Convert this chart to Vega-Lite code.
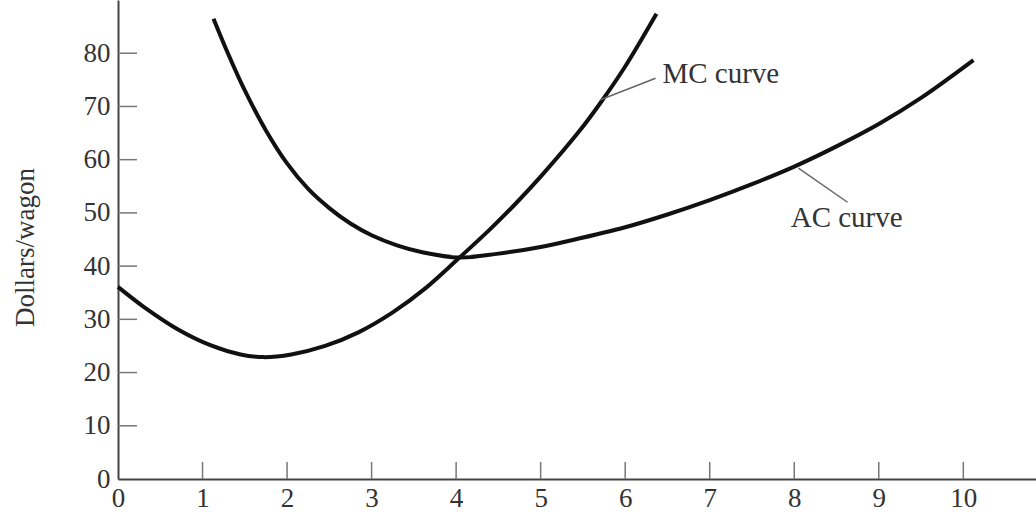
{
  "$schema": "https://vega.github.io/schema/vega-lite/v6.json",
  "width": 918,
  "height": 479,
  "autosize": {"type": "none"},
  "padding": {"left": 118, "top": 0, "right": 0, "bottom": 40},
  "background": "white",
  "config": {
    "view": {"stroke": null},
    "font": "Liberation Serif",
    "axis": {
      "labelFont": "Liberation Serif",
      "titleFont": "Liberation Serif",
      "labelFontSize": 27,
      "titleFontSize": 27,
      "labelColor": "#333",
      "titleColor": "#333",
      "titleFontWeight": "normal",
      "domainColor": "#444",
      "domainWidth": 2,
      "ticks": false,
      "grid": false
    }
  },
  "datasets": {
    "curves": [
      {"curve": "AC", "q": 1.13, "cost": 86.5},
      {"curve": "AC", "q": 1.3, "cost": 80.0},
      {"curve": "AC", "q": 1.5, "cost": 73.0},
      {"curve": "AC", "q": 1.75, "cost": 65.5},
      {"curve": "AC", "q": 2.0, "cost": 59.3},
      {"curve": "AC", "q": 2.25, "cost": 54.5},
      {"curve": "AC", "q": 2.5, "cost": 50.9},
      {"curve": "AC", "q": 2.75, "cost": 48.0},
      {"curve": "AC", "q": 3.0, "cost": 45.8},
      {"curve": "AC", "q": 3.3, "cost": 43.9},
      {"curve": "AC", "q": 3.6, "cost": 42.6},
      {"curve": "AC", "q": 4.04, "cost": 41.6},
      {"curve": "AC", "q": 4.48, "cost": 42.3},
      {"curve": "AC", "q": 5.0, "cost": 43.6},
      {"curve": "AC", "q": 5.35, "cost": 44.8},
      {"curve": "AC", "q": 6.0, "cost": 47.3},
      {"curve": "AC", "q": 6.5, "cost": 49.7},
      {"curve": "AC", "q": 7.0, "cost": 52.4},
      {"curve": "AC", "q": 7.5, "cost": 55.4},
      {"curve": "AC", "q": 8.0, "cost": 58.7},
      {"curve": "AC", "q": 8.5, "cost": 62.5},
      {"curve": "AC", "q": 9.0, "cost": 66.7},
      {"curve": "AC", "q": 9.5, "cost": 71.6},
      {"curve": "AC", "q": 10.12, "cost": 78.7},
      {"curve": "MC", "q": 0.0, "cost": 36.1},
      {"curve": "MC", "q": 0.3, "cost": 32.4},
      {"curve": "MC", "q": 0.7, "cost": 28.2},
      {"curve": "MC", "q": 1.1, "cost": 25.1},
      {"curve": "MC", "q": 1.45, "cost": 23.4},
      {"curve": "MC", "q": 1.72, "cost": 22.9},
      {"curve": "MC", "q": 2.05, "cost": 23.4},
      {"curve": "MC", "q": 2.45, "cost": 25.0},
      {"curve": "MC", "q": 2.85, "cost": 27.6},
      {"curve": "MC", "q": 3.25, "cost": 31.3},
      {"curve": "MC", "q": 3.65, "cost": 36.0},
      {"curve": "MC", "q": 4.04, "cost": 41.6},
      {"curve": "MC", "q": 4.4, "cost": 46.9},
      {"curve": "MC", "q": 4.72, "cost": 52.0},
      {"curve": "MC", "q": 5.0, "cost": 56.8},
      {"curve": "MC", "q": 5.47, "cost": 65.6},
      {"curve": "MC", "q": 5.7, "cost": 70.5},
      {"curve": "MC", "q": 6.0, "cost": 77.5},
      {"curve": "MC", "q": 6.37, "cost": 87.4}
    ],
    "xticks": [
      {"v": 1}, {"v": 2}, {"v": 3}, {"v": 4}, {"v": 5},
      {"v": 6}, {"v": 7}, {"v": 8}, {"v": 9}, {"v": 10}
    ],
    "yticks": [
      {"v": 10}, {"v": 20}, {"v": 30}, {"v": 40},
      {"v": 50}, {"v": 60}, {"v": 70}, {"v": 80}
    ],
    "leaders": [
      {"name": "MC curve", "q": 5.7, "cost": 71.2, "q2": 6.36, "cost2": 75.3},
      {"name": "AC curve", "q": 8.05, "cost": 58.4, "q2": 8.63, "cost2": 52.0}
    ],
    "labels": [
      {"name": "MC curve", "q": 6.44, "cost": 74.4, "align": "left"},
      {"name": "AC curve", "q": 8.62, "cost": 47.3, "align": "center"}
    ]
  },
  "layer": [
    {
      "mark": {"type": "rule", "color": "#333", "strokeWidth": 1.6, "strokeDash": [12, 6]},
      "encoding": {
        "x": {"datum": 4, "type": "quantitative", "scale": {"domain": [0, 10.86], "nice": false}},
        "y": {"datum": 0, "type": "quantitative"},
        "y2": {"datum": 90}
      }
    },
    {
      "mark": {"type": "rule", "color": "#888", "strokeWidth": 2},
      "encoding": {
        "y": {"datum": 90, "type": "quantitative"},
        "x": {"datum": 0, "type": "quantitative"},
        "x2": {"datum": 10.86}
      }
    },
    {
      "data": {"name": "xticks"},
      "mark": {"type": "rule", "color": "#777", "strokeWidth": 1.5},
      "encoding": {
        "x": {"field": "v", "type": "quantitative"},
        "y": {"datum": 0, "type": "quantitative"},
        "y2": {"datum": 3.2}
      }
    },
    {
      "data": {"name": "yticks"},
      "mark": {"type": "rule", "color": "#777", "strokeWidth": 1.5},
      "encoding": {
        "y": {"field": "v", "type": "quantitative"},
        "x": {"datum": 0, "type": "quantitative"},
        "x2": {"datum": 0.225}
      }
    },
    {
      "data": {"name": "curves"},
      "mark": {"type": "line", "color": "#111", "strokeWidth": 4, "interpolate": "catmull-rom", "strokeCap": "butt"},
      "encoding": {
        "detail": {"field": "curve"},
        "x": {
          "field": "q", "type": "quantitative",
          "scale": {"domain": [0, 10.86], "nice": false, "zero": false},
          "axis": {"values": [0,1,2,3,4,5,6,7,8,9,10], "format": "d", "title": null, "labelPadding": 6, "labelFlush": false}
        },
        "y": {
          "field": "cost", "type": "quantitative",
          "scale": {"domain": [0, 90], "nice": false},
          "axis": {"values": [0,10,20,30,40,50,60,70,80], "format": "d", "title": "Dollars/wagon", "labelPadding": 8,
                   "titleAngle": -90, "titleX": -93, "titleY": 247, "titleAlign": "center", "titleBaseline": "middle"}
        }
      }
    },
    {
      "data": {"name": "leaders"},
      "mark": {"type": "rule", "color": "#666", "strokeWidth": 1.5},
      "encoding": {
        "x": {"field": "q", "type": "quantitative"},
        "y": {"field": "cost", "type": "quantitative"},
        "x2": {"field": "q2"},
        "y2": {"field": "cost2"}
      }
    },
    {
      "data": {"name": "labels"},
      "transform": [{"filter": "datum.align == 'left'"}],
      "mark": {"type": "text", "font": "Liberation Serif", "fontSize": 29, "color": "#333", "align": "left", "baseline": "alphabetic"},
      "encoding": {
        "x": {"field": "q", "type": "quantitative"},
        "y": {"field": "cost", "type": "quantitative"},
        "text": {"field": "name"}
      }
    },
    {
      "data": {"name": "labels"},
      "transform": [{"filter": "datum.align == 'center'"}],
      "mark": {"type": "text", "font": "Liberation Serif", "fontSize": 29, "color": "#333", "align": "center", "baseline": "alphabetic"},
      "encoding": {
        "x": {"field": "q", "type": "quantitative"},
        "y": {"field": "cost", "type": "quantitative"},
        "text": {"field": "name"}
      }
    }
  ]
}
